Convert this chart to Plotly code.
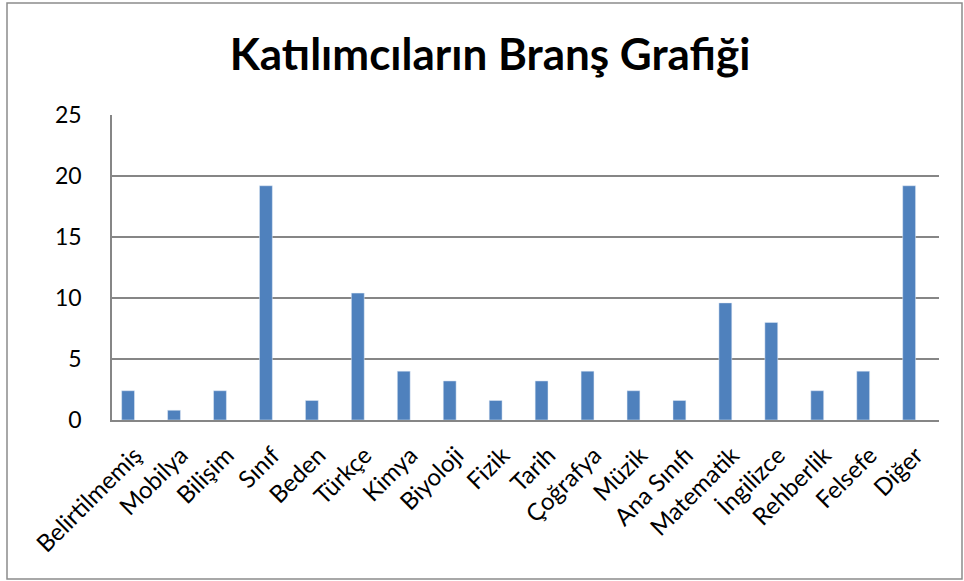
import plotly.graph_objects as go

branches = ["Belirtilmemiş", "Mobilya", "Bilişim", "Sınıf", "Beden", "Türkçe",
            "Kimya", "Biyoloji", "Fizik", "Tarih", "Çoğrafya", "Müzik",
            "Ana Sınıfı", "Matematik", "İngilizce", "Rehberlik", "Felsefe", "Diğer"]
percent = [2.4, 0.8, 2.4, 19.2, 1.6, 10.4, 4.0, 3.2, 1.6, 3.2, 4.0, 2.4,
           1.6, 9.6, 8.0, 2.4, 4.0, 19.2]
y_ticks = [0, 5, 10, 15, 20, 25]

W, H = 964, 581
L, R, T, B = 112, 25, 115, 161
pw, ph = W - L - R, H - T - B

# bars sit just left of the category centre (Excel-style cluster slot)
fig = go.Figure(go.Bar(
    x=branches, y=percent,
    marker=dict(color="#4F81BD"),
    width=0.28, offset=-0.29,
))

# outer chart border (pixel -> paper coords)
def px_x(v):
    return (v - L) / pw

def px_y(v):
    return (H - B - v) / ph

fig.add_shape(type="rect", xref="paper", yref="paper",
              x0=px_x(7), x1=px_x(962), y0=px_y(579), y1=px_y(3),
              line=dict(color="#8C8C8C", width=1.5), layer="below")

fig.update_layout(
    width=W, height=H,
    margin=dict(l=L, r=R, t=T, b=B),
    paper_bgcolor="white", plot_bgcolor="white",
    font=dict(family="Lato, Open Sans, sans-serif", color="black"),
    title=dict(text="<b>Katılımcıların Branş Grafiği</b>",
               x=490 / W, xanchor="center", y=1 - 55 / H, yanchor="middle",
               font=dict(size=44, family="Lato, Open Sans, sans-serif")),
    showlegend=False,
    xaxis=dict(tickangle=-45, tickfont=dict(size=24),
               showline=True, linecolor="#868686", linewidth=1.5,
               ticks="", showgrid=False, ticklabelstandoff=10),
    yaxis=dict(range=[0, 25], tickvals=y_ticks, tickfont=dict(size=23),
               showgrid=True, gridcolor="#868686", gridwidth=1.5,
               showline=True, linecolor="#868686", linewidth=1.5,
               ticks="", ticklabelstandoff=24, zeroline=False),
)

fig.write_html("out.html", config={"displayModeBar": False},
               post_script="document.body.style.margin='0';")
